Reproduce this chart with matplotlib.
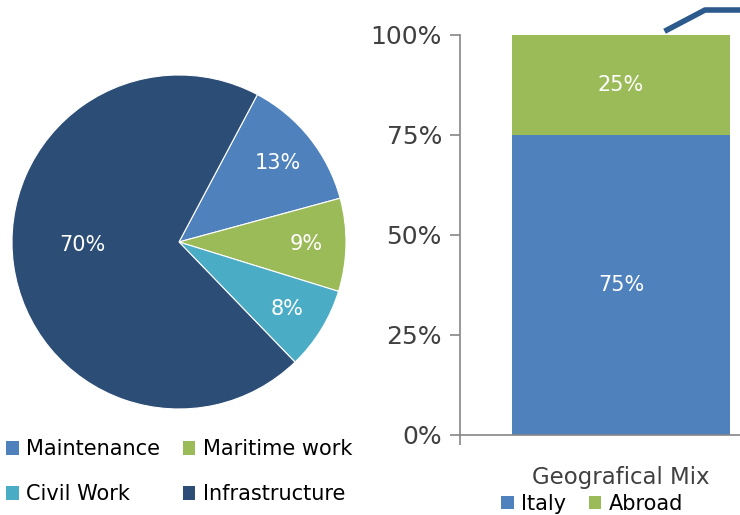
from matplotlib import pyplot as plt
from matplotlib.patches import Patch
from matplotlib.lines import Line2D
from matplotlib.ticker import FuncFormatter
import numpy as np

# Dados do gráfico de pizza
setores = ['Maintenance', 'Maritime work', 'Civil Work', 'Infrastructure']
pesos = [13, 9, 8, 70]
cores_setores = ['#4F81BD', '#9BBB59', '#4BACC6', '#2C4D75']

# Dados da barra empilhada
categoria = ['Geografical Mix']
italia = [75]
exterior = [25]
cores_geo = ['#4F81BD', '#9BBB59']
yticks = [0, 25, 50, 75, 100]

W, H = 740, 515
fig = plt.figure(figsize=(W / 100, H / 100), dpi=100)
plt.rcParams['font.family'] = 'DejaVu Sans'

# Pizza
cx, cy, r = 179, 242, 167
ax1 = fig.add_axes([(cx - r) / W, (H - cy - r) / H, 2 * r / W, 2 * r / H])
wedges, _, autotexts = ax1.pie(pesos, colors=cores_setores, startangle=62,
                               counterclock=False, autopct='%d%%',
                               pctdistance=0.76, radius=1,
                               wedgeprops=dict(edgecolor='white', linewidth=0.8),
                               textprops=dict(color='white', fontsize=15))
ax1.set_xlim(-1, 1)
ax1.set_ylim(-1, 1)
# rótulo grande mais perto do centro
autotexts[3].set_position((-0.58, -0.02))

handles = [Patch(facecolor=cores_setores[i], label=setores[i]) for i in [0, 2, 1, 3]]
fig.legend(handles=handles, ncol=2, loc='upper left',
           bbox_to_anchor=(0.0, (H - 433) / H), frameon=False,
           fontsize=15, handlelength=0.6, handleheight=0.6,
           handletextpad=0.35, columnspacing=1.1, labelspacing=1.2,
           borderaxespad=0, borderpad=0.3)

# Barra empilhada
x0, y0, y1 = 460, 435, 35
ax2 = fig.add_axes([x0 / W, (H - y0) / H, 322 / W, (y0 - y1) / H])
xpos = np.arange(len(categoria))
b1 = ax2.bar(xpos, italia, width=0.68, color=cores_geo[0], label='Italy')
b2 = ax2.bar(xpos, exterior, bottom=italia, width=0.68, color=cores_geo[1], label='Abroad')
ax2.bar_label(b1, labels=[f'{v}%' for v in italia], label_type='center',
              color='white', fontsize=15)
ax2.bar_label(b2, labels=[f'{v}%' for v in exterior], label_type='center',
              color='white', fontsize=15)

ax2.set_xlim(-0.5, 0.5)
ax2.set_ylim(0, 100)
ax2.set_yticks(yticks)
ax2.yaxis.set_major_formatter(FuncFormatter(lambda v, p: f'{v:.0f}%'))
ax2.tick_params(axis='y', labelsize=18, labelcolor='#404040', color='#868686',
                length=7, width=1.2, direction='out', pad=6)
ax2.set_xticks(xpos)
ax2.set_xticklabels(categoria)
ax2.set_xticks([-0.5], minor=True)
ax2.tick_params(axis='x', which='major', length=0, labelsize=16.5,
                labelcolor='#404040', pad=22)
ax2.tick_params(axis='x', which='minor', length=7, width=1.2, color='#868686')
for s in ['top', 'right']:
    ax2.spines[s].set_visible(False)
for s in ['left', 'bottom']:
    ax2.spines[s].set_color('#868686')
    ax2.spines[s].set_linewidth(1.2)

fig.legend(handles=[b1, b2], ncol=2, loc='center left',
           bbox_to_anchor=(501 / W, (H - 504) / H), frameon=False,
           fontsize=15, handlelength=0.6, handleheight=0.6,
           handletextpad=0.35, columnspacing=1.1, borderaxespad=0, borderpad=0)

# linha decorativa no canto superior
fig.add_artist(Line2D([667 / W, 705 / W, 1.0], [(H - 30) / H, (H - 10) / H, (H - 10) / H],
                      color='#2C5A8C', linewidth=4, transform=fig.transFigure))

fig.savefig('out.png', dpi=100)
